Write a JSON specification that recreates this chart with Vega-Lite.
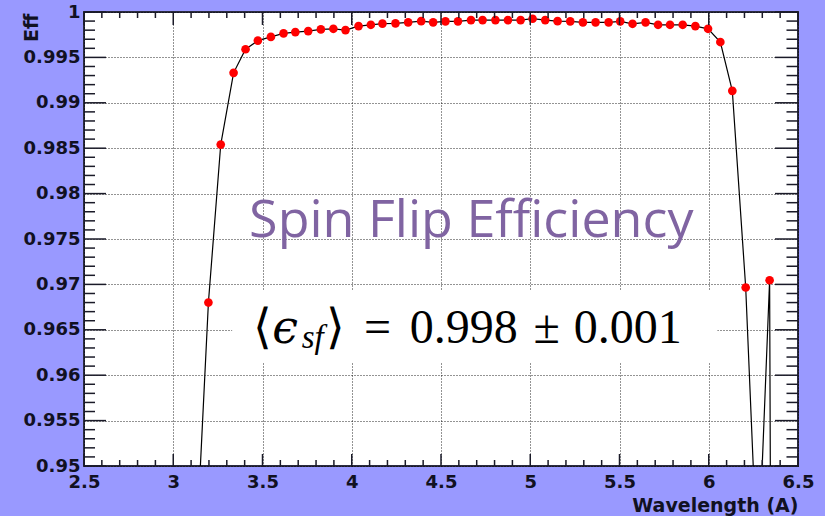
{
  "$schema": "https://vega.github.io/schema/vega-lite/v6.json",
  "width": 714,
  "height": 454,
  "autosize": {"type": "none"},
  "padding": {"left": 84, "top": 12, "right": 27, "bottom": 50},
  "background": "#9999ff",
  "config": {
    "view": {"fill": "white", "stroke": "#2b2b3f", "strokeWidth": 2},
    "axis": {
      "domain": false,
      "ticks": false,
      "tickSize": 0,
      "labelFont": "DejaVu Sans",
      "labelFontWeight": "bold",
      "labelFontSize": 18,
      "labelColor": "#111122",
      "gridColor": "#000000",
      "gridDash": [1, 2],
      "gridWidth": 1,
      "gridOpacity": 0.85,
      "titleFont": "DejaVu Sans",
      "titleFontWeight": "bold",
      "titleFontSize": 19,
      "titleColor": "#111122"
    },
    "rule": {"color": "#1a1a28", "strokeWidth": 1.5, "opacity": 1}
  },
  "datasets": {
    "eff": [
      {"wl": 3.127, "eff": 0.940},
      {"wl": 3.197, "eff": 0.9680},
      {"wl": 3.266, "eff": 0.9854},
      {"wl": 3.338, "eff": 0.9933},
      {"wl": 3.405, "eff": 0.9959},
      {"wl": 3.474, "eff": 0.99685},
      {"wl": 3.547, "eff": 0.99726},
      {"wl": 3.618, "eff": 0.99765},
      {"wl": 3.684, "eff": 0.99779},
      {"wl": 3.756, "eff": 0.9979},
      {"wl": 3.827, "eff": 0.99808},
      {"wl": 3.897, "eff": 0.99815},
      {"wl": 3.965, "eff": 0.99801},
      {"wl": 4.038, "eff": 0.99845},
      {"wl": 4.107, "eff": 0.99859},
      {"wl": 4.172, "eff": 0.99872},
      {"wl": 4.245, "eff": 0.99875},
      {"wl": 4.316, "eff": 0.99886},
      {"wl": 4.389, "eff": 0.99899},
      {"wl": 4.456, "eff": 0.99886},
      {"wl": 4.525, "eff": 0.99897},
      {"wl": 4.595, "eff": 0.99897},
      {"wl": 4.668, "eff": 0.99911},
      {"wl": 4.733, "eff": 0.99911},
      {"wl": 4.805, "eff": 0.99911},
      {"wl": 4.875, "eff": 0.99911},
      {"wl": 4.946, "eff": 0.99911},
      {"wl": 5.013, "eff": 0.99926},
      {"wl": 5.084, "eff": 0.99911},
      {"wl": 5.153, "eff": 0.99899},
      {"wl": 5.224, "eff": 0.99897},
      {"wl": 5.295, "eff": 0.99886},
      {"wl": 5.366, "eff": 0.99886},
      {"wl": 5.439, "eff": 0.99886},
      {"wl": 5.504, "eff": 0.99897},
      {"wl": 5.573, "eff": 0.9987},
      {"wl": 5.646, "eff": 0.99886},
      {"wl": 5.716, "eff": 0.99859},
      {"wl": 5.783, "eff": 0.99859},
      {"wl": 5.854, "eff": 0.99859},
      {"wl": 5.925, "eff": 0.99845},
      {"wl": 5.996, "eff": 0.99815},
      {"wl": 6.065, "eff": 0.99669},
      {"wl": 6.132, "eff": 0.99132},
      {"wl": 6.207, "eff": 0.96966},
      {"wl": 6.275, "eff": 0.938},
      {"wl": 6.341, "eff": 0.97046},
      {"wl": 6.411, "eff": 0.6}
    ],
    "xmaj": [{"wl": 2.5}, {"wl": 3}, {"wl": 3.5}, {"wl": 4}, {"wl": 4.5}, {"wl": 5}, {"wl": 5.5}, {"wl": 6}, {"wl": 6.5}],
    "xmin": [{"wl": 2.6}, {"wl": 2.7}, {"wl": 2.8}, {"wl": 2.9}, {"wl": 3.1}, {"wl": 3.2}, {"wl": 3.3}, {"wl": 3.4}, {"wl": 3.6}, {"wl": 3.7}, {"wl": 3.8}, {"wl": 3.9}, {"wl": 4.1}, {"wl": 4.2}, {"wl": 4.3}, {"wl": 4.4}, {"wl": 4.6}, {"wl": 4.7}, {"wl": 4.8}, {"wl": 4.9}, {"wl": 5.1}, {"wl": 5.2}, {"wl": 5.3}, {"wl": 5.4}, {"wl": 5.6}, {"wl": 5.7}, {"wl": 5.8}, {"wl": 5.9}, {"wl": 6.1}, {"wl": 6.2}, {"wl": 6.3}, {"wl": 6.4}],
    "ymaj": [{"eff": 0.95}, {"eff": 0.955}, {"eff": 0.96}, {"eff": 0.965}, {"eff": 0.97}, {"eff": 0.975}, {"eff": 0.98}, {"eff": 0.985}, {"eff": 0.99}, {"eff": 0.995}, {"eff": 1}],
    "ymin": [{"eff": 0.951}, {"eff": 0.952}, {"eff": 0.953}, {"eff": 0.954}, {"eff": 0.956}, {"eff": 0.957}, {"eff": 0.958}, {"eff": 0.959}, {"eff": 0.961}, {"eff": 0.962}, {"eff": 0.963}, {"eff": 0.964}, {"eff": 0.966}, {"eff": 0.967}, {"eff": 0.968}, {"eff": 0.969}, {"eff": 0.971}, {"eff": 0.972}, {"eff": 0.973}, {"eff": 0.974}, {"eff": 0.976}, {"eff": 0.977}, {"eff": 0.978}, {"eff": 0.979}, {"eff": 0.981}, {"eff": 0.982}, {"eff": 0.983}, {"eff": 0.984}, {"eff": 0.986}, {"eff": 0.987}, {"eff": 0.988}, {"eff": 0.989}, {"eff": 0.991}, {"eff": 0.992}, {"eff": 0.993}, {"eff": 0.994}, {"eff": 0.996}, {"eff": 0.997}, {"eff": 0.998}, {"eff": 0.999}],
    "box": [{"wl": 3.33, "wl2": 6.048, "eff": 0.96936, "eff2": 0.96143}],
    "formula": [
      {"t": "⟨", "wl": 3.5006, "eff": 0.96352},
      {"t": "⟩", "wl": 3.907, "eff": 0.96352},
      {"t": "=", "wl": 4.145, "eff": 0.96352},
      {"t": "0.998", "wl": 4.627, "eff": 0.96352},
      {"t": "±", "wl": 5.0925, "eff": 0.96352},
      {"t": "0.001", "wl": 5.5465, "eff": 0.96352}
    ],
    "eps": [{"t": "ϵ", "wl": 3.627, "eff": 0.96352}],
    "sub": [{"t": "sf", "wl": 3.781, "eff": 0.96297}],
    "title": [{"t": "Spin Flip Efficiency", "wl": 3.425, "eff": 0.97523}]
  },
  "layer": [
    {
      "data": {"name": "box"},
      "mark": {"type": "rect", "fill": "white", "strokeWidth": 0},
      "encoding": {
        "x": {
          "field": "wl", "type": "quantitative",
          "scale": {"domain": [2.5, 6.5], "nice": false, "zero": false},
          "axis": {
            "orient": "bottom",
            "values": [2.5, 3, 3.5, 4, 4.5, 5, 5.5, 6, 6.5],
            "format": "~g",
            "labelPadding": 7, "labelFlush": false, "labelOverlap": false,
            "grid": true,
            "title": "Wavelength (A)",
            "titleX": 714, "titleY": 45,
            "titleAlign": "right", "titleBaseline": "alphabetic"
          }
        },
        "x2": {"field": "wl2"},
        "y": {
          "field": "eff", "type": "quantitative",
          "scale": {"domain": [0.95, 1], "nice": false, "zero": false},
          "axis": {
            "orient": "left",
            "values": [0.95, 0.955, 0.96, 0.965, 0.97, 0.975, 0.98, 0.985, 0.99, 0.995, 1],
            "format": "~g",
            "labelPadding": 4, "labelFlush": false, "labelOverlap": false,
            "grid": true,
            "title": "Eff",
            "titleX": -47, "titleY": 1,
            "titleAngle": 270, "titleAlign": "right", "titleBaseline": "alphabetic"
          }
        },
        "y2": {"field": "eff2"}
      }
    },
    {
      "data": {"name": "eff"},
      "mark": {"type": "line", "color": "black", "strokeWidth": 1.2, "clip": true},
      "encoding": {
        "x": {"field": "wl", "type": "quantitative", "scale": {"domain": [2.5, 6.5], "nice": false, "zero": false}},
        "y": {"field": "eff", "type": "quantitative", "scale": {"domain": [0.95, 1], "nice": false, "zero": false}}
      }
    },
    {
      "data": {"name": "eff"},
      "mark": {"type": "point", "shape": "circle", "filled": true, "color": "#ff0000", "opacity": 1, "size": 75, "clip": true},
      "encoding": {
        "x": {"field": "wl", "type": "quantitative", "scale": {"domain": [2.5, 6.5], "nice": false, "zero": false}},
        "y": {"field": "eff", "type": "quantitative", "scale": {"domain": [0.95, 1], "nice": false, "zero": false}}
      }
    },
    {
      "data": {"name": "formula"},
      "mark": {"type": "text", "font": "Liberation Serif", "fontSize": 48, "align": "center", "baseline": "alphabetic", "color": "black"},
      "encoding": {
        "text": {"field": "t"},
        "x": {"field": "wl", "type": "quantitative", "scale": {"domain": [2.5, 6.5], "nice": false, "zero": false}},
        "y": {"field": "eff", "type": "quantitative", "scale": {"domain": [0.95, 1], "nice": false, "zero": false}}
      }
    },
    {
      "data": {"name": "eps"},
      "mark": {"type": "text", "font": "DejaVu Serif", "fontStyle": "italic", "fontSize": 46, "align": "center", "baseline": "alphabetic", "color": "black"},
      "encoding": {
        "text": {"field": "t"},
        "x": {"field": "wl", "type": "quantitative", "scale": {"domain": [2.5, 6.5], "nice": false, "zero": false}},
        "y": {"field": "eff", "type": "quantitative", "scale": {"domain": [0.95, 1], "nice": false, "zero": false}}
      }
    },
    {
      "data": {"name": "sub"},
      "mark": {"type": "text", "font": "Liberation Serif", "fontStyle": "italic", "fontSize": 33, "align": "center", "baseline": "alphabetic", "color": "black"},
      "encoding": {
        "text": {"field": "t"},
        "x": {"field": "wl", "type": "quantitative", "scale": {"domain": [2.5, 6.5], "nice": false, "zero": false}},
        "y": {"field": "eff", "type": "quantitative", "scale": {"domain": [0.95, 1], "nice": false, "zero": false}}
      }
    },
    {
      "data": {"name": "title"},
      "mark": {"type": "text", "font": "Open Sans", "fontSize": 52, "align": "left", "baseline": "alphabetic", "color": "#8064a2"},
      "encoding": {
        "text": {"field": "t"},
        "x": {"field": "wl", "type": "quantitative", "scale": {"domain": [2.5, 6.5], "nice": false, "zero": false}},
        "y": {"field": "eff", "type": "quantitative", "scale": {"domain": [0.95, 1], "nice": false, "zero": false}}
      }
    },
    {
      "data": {"name": "ymaj"},
      "mark": {"type": "rule"},
      "encoding": {
        "y": {"field": "eff", "type": "quantitative", "scale": {"domain": [0.95, 1], "nice": false, "zero": false}},
        "x": {"datum": 2.5, "type": "quantitative", "scale": {"domain": [2.5, 6.5], "nice": false, "zero": false}},
        "x2": {"datum": 2.6233}
      }
    },
    {
      "data": {"name": "ymin"},
      "mark": {"type": "rule"},
      "encoding": {
        "y": {"field": "eff", "type": "quantitative", "scale": {"domain": [0.95, 1], "nice": false, "zero": false}},
        "x": {"datum": 2.5, "type": "quantitative", "scale": {"domain": [2.5, 6.5], "nice": false, "zero": false}},
        "x2": {"datum": 2.5617}
      }
    },
    {
      "data": {"name": "ymaj"},
      "mark": {"type": "rule"},
      "encoding": {
        "y": {"field": "eff", "type": "quantitative", "scale": {"domain": [0.95, 1], "nice": false, "zero": false}},
        "x": {"datum": 6.3711, "type": "quantitative", "scale": {"domain": [2.5, 6.5], "nice": false, "zero": false}},
        "x2": {"datum": 6.5}
      }
    },
    {
      "data": {"name": "ymin"},
      "mark": {"type": "rule"},
      "encoding": {
        "y": {"field": "eff", "type": "quantitative", "scale": {"domain": [0.95, 1], "nice": false, "zero": false}},
        "x": {"datum": 6.4355, "type": "quantitative", "scale": {"domain": [2.5, 6.5], "nice": false, "zero": false}},
        "x2": {"datum": 6.5}
      }
    },
    {
      "data": {"name": "xmaj"},
      "mark": {"type": "rule"},
      "encoding": {
        "x": {"field": "wl", "type": "quantitative", "scale": {"domain": [2.5, 6.5], "nice": false, "zero": false}},
        "y": {"datum": 0.95, "type": "quantitative", "scale": {"domain": [0.95, 1], "nice": false, "zero": false}},
        "y2": {"datum": 0.95132}
      }
    },
    {
      "data": {"name": "xmin"},
      "mark": {"type": "rule"},
      "encoding": {
        "x": {"field": "wl", "type": "quantitative", "scale": {"domain": [2.5, 6.5], "nice": false, "zero": false}},
        "y": {"datum": 0.95, "type": "quantitative", "scale": {"domain": [0.95, 1], "nice": false, "zero": false}},
        "y2": {"datum": 0.95066}
      }
    },
    {
      "data": {"name": "xmaj"},
      "mark": {"type": "rule"},
      "encoding": {
        "x": {"field": "wl", "type": "quantitative", "scale": {"domain": [2.5, 6.5], "nice": false, "zero": false}},
        "y": {"datum": 0.99857, "type": "quantitative", "scale": {"domain": [0.95, 1], "nice": false, "zero": false}},
        "y2": {"datum": 1}
      }
    },
    {
      "data": {"name": "xmin"},
      "mark": {"type": "rule"},
      "encoding": {
        "x": {"field": "wl", "type": "quantitative", "scale": {"domain": [2.5, 6.5], "nice": false, "zero": false}},
        "y": {"datum": 0.99934, "type": "quantitative", "scale": {"domain": [0.95, 1], "nice": false, "zero": false}},
        "y2": {"datum": 1}
      }
    }
  ]
}
